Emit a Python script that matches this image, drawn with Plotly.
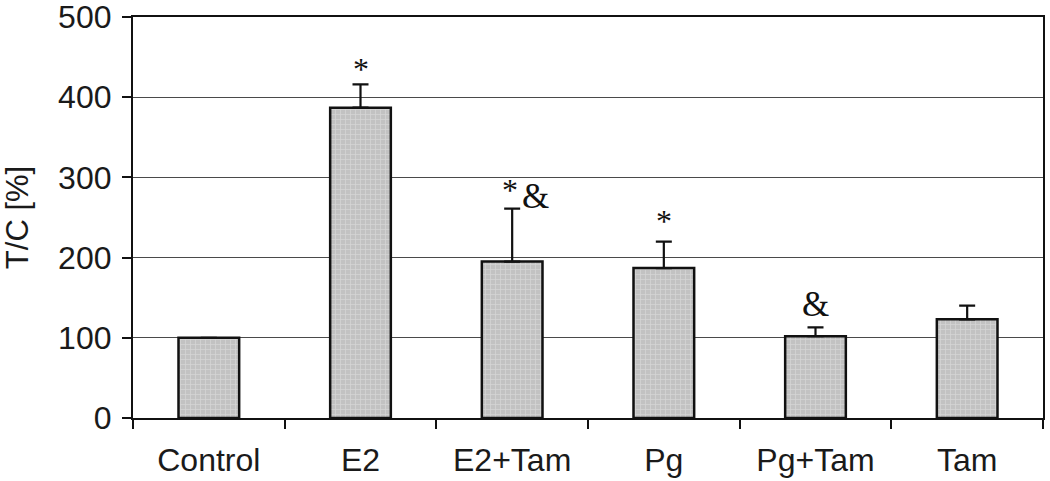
import plotly.graph_objects as go

# Data
groups = ["Control", "E2", "E2+Tam", "Pg", "Pg+Tam", "Tam"]
tc_mean = [100, 387, 195, 187, 102, 123]
tc_err = [0, 29, 66, 33, 11, 17]

# significance marks: (group, y)
star_marks = [("E2", 435), ("E2+Tam", 284), ("Pg", 246)]
amp_marks = [("E2+Tam", 276), ("Pg+Tam", 141)]

y_ticks = [0, 100, 200, 300, 400, 500]

fig = go.Figure()

fig.add_trace(go.Bar(
    x=groups,
    y=tc_mean,
    marker=dict(
        color="#c4c4c4",
        line=dict(color="#111111", width=2.5),
        pattern=dict(shape="+", bgcolor="#c2c2c2", fgcolor="#ececec",
                     size=5, solidity=0.25),
    ),
    error_y=dict(type="data", array=tc_err, arrayminus=[0] * len(tc_err),
                 symmetric=False, color="#111111", thickness=2.2, width=8),
    width=0.4,
))

serif = "Liberation Serif, Times New Roman, serif"
for g, yv in star_marks:
    fig.add_annotation(x=g, y=yv, text="*", showarrow=False, yanchor="middle",
                       xshift=-2 if g == "E2+Tam" else 0,
                       font=dict(family=serif, size=32, color="#111111"))
for g, yv in amp_marks:
    fig.add_annotation(x=g, y=yv, text="&", showarrow=False, yanchor="middle",
                       xshift=23 if g == "E2+Tam" else 0,
                       font=dict(family=serif, size=35, color="#111111"))

fig.update_layout(
    width=1050, height=481,
    margin=dict(l=133, r=7, t=17, b=63),
    paper_bgcolor="white", plot_bgcolor="white",
    showlegend=False,
    font=dict(family="Liberation Sans, Arial, sans-serif", size=32, color="#1a1a1a"),
)

fig.update_xaxes(
    automargin=False,
    showline=True, linecolor="#111111", linewidth=2.2, mirror=True,
    ticks="outside", tickson="boundaries", ticklen=9, tickcolor="#111111", tickwidth=2,
    ticklabelstandoff=12, showgrid=False,
)
fig.update_yaxes(
    automargin=False, ticklabeloverflow="allow",
    range=[0, 500], tickvals=y_ticks,
    showline=True, linecolor="#111111", linewidth=2.2, mirror=True,
    ticks="outside", ticklen=9, tickcolor="#111111", tickwidth=2,
    ticklabelstandoff=4,
    showgrid=True, gridcolor="#4a4a4a", gridwidth=1.2,
    zeroline=False,
    title=dict(text="T/C [%]", standoff=33, font=dict(size=31)),
)

# drop the default page margin so the figure sits at the window's corner
fig.write_html("out.html", config={"displayModeBar": False},
               post_script="document.body.style.margin='0';")
